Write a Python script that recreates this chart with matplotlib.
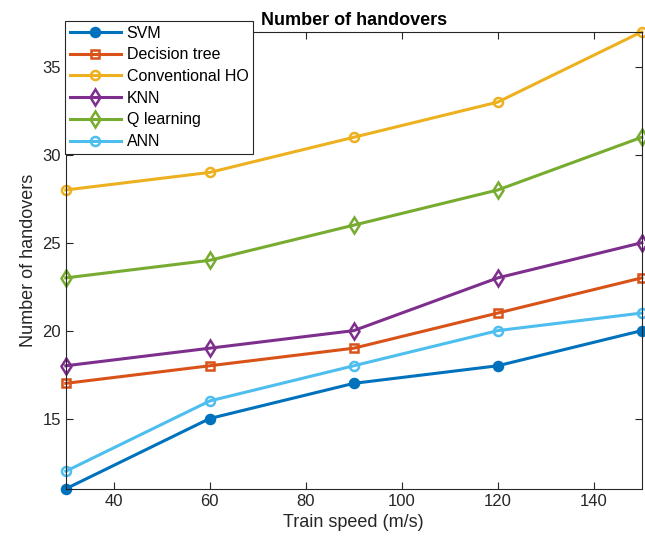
import matplotlib
matplotlib.use("Agg")
import matplotlib.pyplot as plt

plt.rcParams['font.family'] = ['Liberation Sans', 'DejaVu Sans']

# velocidades del tren (m/s)
speed = [30, 60, 90, 120, 150]

svm = [11, 15, 17, 18, 20]
decision_tree = [17, 18, 19, 21, 23]
conventional_ho = [28, 29, 31, 33, 37]
knn = [18, 19, 20, 23, 25]
q_learning = [23, 24, 26, 28, 31]
ann = [12, 16, 18, 20, 21]

series = [
    ("SVM", svm, "#0072BD", "o", True),
    ("Decision tree", decision_tree, "#D95319", "s", False),
    ("Conventional HO", conventional_ho, "#EDB120", "o", False),
    ("KNN", knn, "#7E2F8E", "d", False),
    ("Q learning", q_learning, "#77AC30", "d", False),
    ("ANN", ann, "#4DBEEE", "o", False),
]

fig = plt.figure(figsize=(6.45, 5.48), dpi=100)
ax = fig.add_axes([0.102, 0.108, 0.893, 0.834])

for nombre, valores, color, marca, relleno in series:
    tam = {"o": 6.5, "s": 5.5, "d": 8}[marca]
    ax.plot(speed, valores, color=color, marker=marca, linewidth=2.2,
            markersize=tam, markeredgewidth=1.8,
            markerfacecolor=color if relleno else "none",
            label=nombre, clip_on=False)

ax.set_xlim(30, 150)
ax.set_ylim(11, 37)
ax.set_xticks([40, 60, 80, 100, 120, 140])
ax.set_yticks([15, 20, 25, 30, 35])
ax.tick_params(direction="in", length=5, labelsize=12, colors="#262626",
               top=True, right=True)
for s in ax.spines.values():
    s.set_color("#262626")
    s.set_linewidth(0.8)

ax.set_xlabel("Train speed (m/s)", fontsize=13, color="#262626")
ax.set_ylabel("Number of handovers", fontsize=13, color="#262626")
ax.set_title("Number of handovers", fontsize=13, fontweight="bold", pad=5)

leg = ax.legend(loc="upper left", bbox_to_anchor=(0.101, 0.962),
                bbox_transform=fig.transFigure, fontsize=11.5,
                fancybox=False, edgecolor="#262626", framealpha=1,
                borderaxespad=0, handlelength=3.2, labelspacing=0.42,
                borderpad=0.3, handletextpad=0.35)
leg.get_frame().set_linewidth(0.8)
leg.set_zorder(5)

fig.savefig("out.png", dpi=100)
